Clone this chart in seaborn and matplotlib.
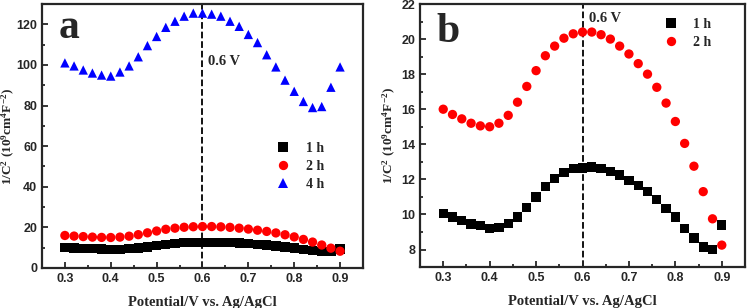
import numpy as np
import pandas as pd
import seaborn as sns
import matplotlib.pyplot as plt
from matplotlib.ticker import MultipleLocator

# ------------------ DATA ------------------
potential = [0.30, 0.32, 0.34, 0.36, 0.38, 0.40, 0.42, 0.44, 0.46, 0.48,
             0.50, 0.52, 0.54, 0.56, 0.58, 0.60, 0.62, 0.64, 0.66, 0.68,
             0.70, 0.72, 0.74, 0.76, 0.78, 0.80, 0.82, 0.84, 0.86, 0.88, 0.90]

inv_c2_1h = [10.05, 9.85, 9.65, 9.45, 9.35, 9.2, 9.25, 9.5, 9.85, 10.4,
             11.0, 11.6, 12.05, 12.4, 12.6, 12.65, 12.7, 12.6, 12.45, 12.25,
             11.95, 11.65, 11.3, 10.85, 10.35, 9.85, 9.2, 8.65, 8.15, 8.0, 9.4]

inv_c2_2h = [16.0, 15.7, 15.45, 15.2, 15.05, 15.0, 15.2, 15.65, 16.4, 17.3,
             18.2, 19.05, 19.6, 20.05, 20.3, 20.4, 20.4, 20.25, 20.0, 19.6,
             19.15, 18.6, 18.0, 17.25, 16.35, 15.3, 14.05, 12.75, 11.3, 9.75, 8.25]

inv_c2_4h = [101, 99.5, 97.5, 96, 95, 94.5, 96.5, 99.5, 104, 109.5,
             114, 118.5, 121.5, 124, 125.5, 125.5, 125, 124, 121.5, 119,
             115, 111, 105, 99, 92.5, 87, 82, 79, 79.5, 89, 99]

series_labels = ['1 h', '2 h', '4 h']

df = pd.concat([
    pd.DataFrame({'Potential': potential, 'Value': vals, 'Time': lab})
    for vals, lab in zip([inv_c2_1h, inv_c2_2h, inv_c2_4h], series_labels)
], ignore_index=True)

# ------------------ STYLE ------------------
sns.set_style('ticks')
plt.rcParams['font.family'] = ['Liberation Sans', 'DejaVu Sans']
plt.rcParams['mathtext.default'] = 'regular'

palette = {'1 h': 'black', '2 h': '#ff0000', '4 h': '#0000ff'}
markers = {'1 h': 's', '2 h': 'o', '4 h': '^'}
serif = ['Liberation Serif', 'DejaVu Serif']

fig = plt.figure(figsize=(7.48, 3.08), dpi=100)
ax_a = fig.add_axes([0.0561, 0.130, 0.4292, 0.857])
ax_b = fig.add_axes([0.5615, 0.133, 0.4345, 0.854])


def style_axis(ax, ylim, ymaj, ymin, ylab_x):
    ax.set_xlim(0.25, 0.95)
    ax.set_ylim(*ylim)
    ax.xaxis.set_major_locator(MultipleLocator(0.1))
    ax.xaxis.set_minor_locator(MultipleLocator(0.05))
    ax.yaxis.set_major_locator(MultipleLocator(ymaj))
    ax.yaxis.set_minor_locator(MultipleLocator(ymin))
    ax.xaxis.set_major_formatter(lambda x, _: f'{x:.1f}')
    ax.yaxis.set_major_formatter(lambda y, _: f'{y:.0f}')
    ax.tick_params(which='both', direction='in', top=False, right=False,
                   width=1.3, labelsize=9)
    ax.tick_params(which='major', length=4)
    ax.tick_params(which='minor', length=2.5)
    for lbl in ax.get_xticklabels() + ax.get_yticklabels():
        lbl.set_fontweight('bold')
    for sp in ax.spines.values():
        sp.set_linewidth(1.6)
        sp.set_visible(True)
    ax.axvline(0.6, color='black', ls='--', lw=1.3, zorder=0)
    ax.set_xlabel('Potential/V vs. Ag/AgCl', fontsize=10.5, fontweight='bold',
                  family=serif, labelpad=8)
    ax.set_ylabel(r'1/C$^2$ (10$^9$cm$^4$F$^{-2}$)', fontsize=9.5,
                  fontweight='bold', family=serif)
    ax.yaxis.set_label_coords(ylab_x, 0.5)
    ax.grid(False)


def style_legend(leg):
    for t in leg.get_texts():
        t.set_fontweight('bold')
        t.set_family(serif)
        t.set_fontsize(10)


# ------------------ PANEL a ------------------
sns.scatterplot(data=df, x='Potential', y='Value', hue='Time', style='Time',
                palette=palette, markers=markers, s=45, linewidth=0, ax=ax_a)
style_axis(ax_a, (0, 130), 20, 10, -0.078)
ax_a.text(0.052, 0.872, 'a', transform=ax_a.transAxes, fontsize=30,
          fontweight='bold', family=serif, va='baseline')
ax_a.text(0.613, 101.5, '0.6 V', fontsize=10.5, fontweight='bold', family=serif,
          va='center')
leg = ax_a.legend(loc='center left', bbox_to_anchor=(0.67, 0.385), frameon=False,
                  handletextpad=0.6, labelspacing=0.35)
style_legend(leg)

# ------------------ PANEL b ------------------
df_b = df[df['Time'] != '4 h']
sns.scatterplot(data=df_b, x='Potential', y='Value', hue='Time', style='Time',
                palette=palette, markers=markers, s=45, linewidth=0, ax=ax_b)
style_axis(ax_b, (7, 22), 2, 1, -0.068)
ax_b.text(0.05, 0.855, 'b', transform=ax_b.transAxes, fontsize=30,
          fontweight='bold', family=serif, va='baseline')
ax_b.text(0.613, 21.2, '0.6 V', fontsize=10.5, fontweight='bold', family=serif,
          va='center')
leg = ax_b.legend(loc='upper left', bbox_to_anchor=(0.69, 0.995), frameon=False,
                  handletextpad=0.6, labelspacing=0.35)
style_legend(leg)

fig.savefig('out.png', dpi=100)
plt.close(fig)
